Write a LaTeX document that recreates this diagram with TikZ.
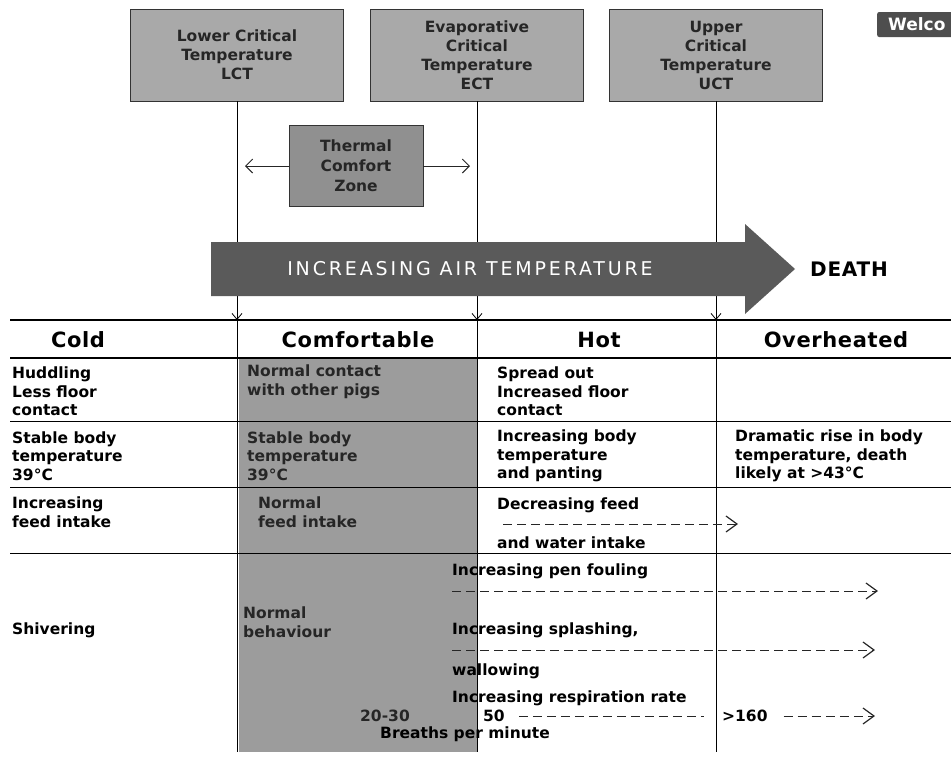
\documentclass[tikz,border=0pt]{standalone}
\usepackage{fontspec}
\setmainfont{DejaVu Sans}
\newfontfamily\barfont[LetterSpace=15]{DejaVu Sans}
\newfontfamily\headfont[LetterSpace=3]{DejaVu Sans}
\newfontfamily\deathfont[LetterSpace=4]{DejaVu Sans}
\usetikzlibrary{arrows.meta}

\definecolor{boxgray}{HTML}{A9A9A9}
\definecolor{zonegray}{HTML}{909090}
\definecolor{colgray}{HTML}{9C9C9C}
\definecolor{bargray}{HTML}{5A5A5A}
\definecolor{welcogray}{HTML}{4E4E4E}
\definecolor{inkgray}{HTML}{262626}

\tikzset{
  critbox/.style={draw=black!80, fill=boxgray, text=inkgray, minimum width=213, minimum height=92,
    align=center, inner sep=2pt, font=\bfseries\fontsize{15.5}{19}\selectfont},
  zonebox/.style={draw=black!80, fill=zonegray, text=inkgray, minimum width=134, minimum height=81,
    align=center, inner sep=2pt, font=\bfseries\fontsize{15.5}{20}\selectfont},
  welcobox/.style={fill=welcogray, text=white, rounded corners=2pt, anchor=west, minimum height=25,
    text width=70, align=left, inner xsep=11pt, inner ysep=4pt, font=\bfseries\fontsize{17}{18}\selectfont},
  headtxt/.style={font=\headfont\bfseries\fontsize{21}{24}\selectfont},
  celltxt/.style={anchor=west, align=left, inner sep=0pt, font=\bfseries\fontsize{15.5}{18.7}\selectfont},
  graytxt/.style={celltxt, text=inkgray},
  rule/.style={black, line width=0.8pt},
  zonearrow/.style={black!85, line width=1pt, -{Straight Barb[length=7,width=14]}},
  downtip/.style={black, line width=0.8pt, -{Straight Barb[length=6,width=10]}},
  dasharrow/.style={black!85, line width=0.9pt, dash pattern=on 9pt off 5pt, -{Straight Barb[length=11,width=16, line width=1.2pt]}},
  dashline/.style={black!85, line width=0.9pt, dash pattern=on 9pt off 5pt}
}

\begin{document}
\begin{tikzpicture}[x=1pt, y=-1pt]
 \useasboundingbox (0,0) rectangle (951,756);

 %critical temperatures
 \node[critbox] (lct) at (237,55) {Lower Critical\\Temperature\\LCT};
 \node[critbox] (ect) at (477,55) {Evaporative\\Critical\\Temperature\\ECT};
 \node[critbox] (uct) at (716,55) {Upper\\Critical\\Temperature\\UCT};
 \node[welcobox] (welco) at (877,24.5) {Welco};

 %comfort zone
 \node[zonebox] (tcz) at (356,166) {Thermal\\Comfort\\Zone};
 \coordinate (tczL) at (245,166);
 \coordinate (tczR) at (470,166);
 \draw[zonearrow] (tcz.west) -- (tczL);
 \draw[zonearrow] (tcz.east) -- (tczR);

 %table
 \coordinate (hdr) at (0,320);
 \coordinate (tabend) at (0,752);
 \fill[colgray] (239,358) rectangle (477,752);

 \draw[rule, line width=1.3pt] (10,320) -- (951,320);
 \draw[rule, line width=1.1pt] (10,358) -- (951,358);
 \foreach \y in {421, 487, 553} {
     \draw[rule, line width=0.7pt] (10,\y) -- (951,\y);
 }

 \foreach \b in {lct, ect, uct} {
     \draw[downtip] (\b.south) -- (\b.south |- hdr);
     \draw[rule] (\b.south |- hdr) -- (\b.south |- tabend);
 }

 %air temperature arrow
 \fill[bargray] (211,242) -- (745,242) -- (745,224) -- (795,269) -- (745,314) -- (745,296) -- (211,296) -- cycle;
 \node[text=white, font=\barfont\fontsize{19}{21}\selectfont] (airtemp) at (470,269) {INCREASING AIR TEMPERATURE};
 \node[font=\deathfont\bfseries\fontsize{20}{22}\selectfont] (death) at (849,269) {DEATH};

 %header
 \foreach \x/\name in {78/Cold, 358/Comfortable, 599/Hot, 836/Overheated} {
     \node[headtxt] (h-\name) at (\x,340) {\name};
 }

 %rows 1-3
 \node[celltxt] (cold1) at (12,391.5) {Huddling\\Less floor\\contact};
 \node[graytxt] (comf1) at (247,382) {Normal contact\\with other pigs};
 \node[celltxt] (hot1) at (497,391.5) {Spread out\\Increased floor\\contact};

 \node[celltxt] (cold2) at (12,456) {Stable body\\temperature\\39°C};
 \node[graytxt] (comf2) at (247,456) {Stable body\\temperature\\39°C};
 \node[celltxt] (hot2) at (497,456) {Increasing body\\temperature\\and panting};
 \node[celltxt] (over2) at (735,456) {Dramatic rise in body\\temperature, death\\likely at >43°C};

 \node[celltxt] (cold3) at (12,512) {Increasing\\feed intake};
 \node[graytxt] (comf3) at (258,512) {Normal\\feed intake};
 \node[celltxt] (hot3a) at (497,505) {Decreasing feed};
 \node[celltxt] (hot3b) at (497,543) {and water intake};
 \coordinate (feedS) at (503,524);
 \coordinate (feedE) at (738,524);
 \draw[dasharrow] (feedS) -- (feedE);

 %row 4
 \node[celltxt] (cold4) at (12,630) {Shivering};
 \node[graytxt] (comf4) at (243,622) {Normal\\behaviour};
 \foreach \i/\y/\txt in {pen/571/Increasing pen fouling, spl/630/{Increasing splashing,}, wal/671/wallowing, resp/698/Increasing respiration rate} {
     \node[celltxt] (\i) at (452,\y) {\txt};
 }
 \coordinate (penE) at (878,591);
 \coordinate (splE) at (875,650);
 \draw[dasharrow] (pen.west |- penE) -- (penE);
 \draw[dasharrow] (spl.west |- splE) -- (splE);

 \node[graytxt] (r2030) at (360,716) {20-30};
 \node[celltxt] (r50) at (483,716) {50};
 \node[celltxt] (r160) at (722,716) {>160};
 \node[celltxt] (bpm) at (380,734) {Breaths per minute};
 \coordinate (r50E) at (704,716);
 \coordinate (r160E) at (875,716);
 \draw[dashline] ([xshift=14pt]r50.east) -- (r50E);
 \draw[dasharrow] ([xshift=16pt]r160.east) -- (r160E);

\end{tikzpicture}
\end{document}
